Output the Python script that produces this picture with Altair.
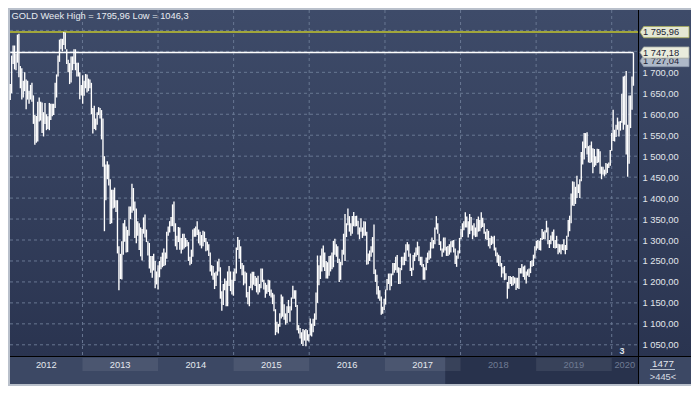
import altair as alt
import pandas as pd

# ---------------- weekly (low, high) of GOLD ----------------
y2012 = [(1634,1672),(1650,1740),(1720,1764),(1707,1764),(1705,1745),(1723,1790),(1688,1792),(1662,1715),(1635,1710),(1640,1680),(1655,1700),(1612,1683),(1635,1680),(1625,1656),(1635,1670),(1630,1675),(1577,1645),(1527,1598),(1532,1596),(1535,1630),(1583,1640),(1585,1630),(1555,1628),(1547,1605),(1577,1627),(1562,1600),(1565,1595),(1562,1627),(1586,1625),(1595,1625),(1598,1625),(1615,1675),(1640,1695),(1690,1740),(1725,1778),(1755,1780),(1750,1780),(1765,1796),(1755,1795),(1720,1755),(1700,1730),(1672,1722),(1676,1738),(1705,1738),(1720,1755),(1705,1755),(1690,1723),(1690,1723),(1636,1700),(1645,1670)]
y2013 = [(1625,1693),(1644,1680),(1662,1696),(1652,1695),(1655,1685),(1662,1683),(1600,1675),(1554,1615),(1565,1620),(1562,1590),(1575,1605),(1598,1617),(1590,1615),(1540,1610),(1475,1590),(1321,1500),(1395,1480),(1445,1488),(1430,1480),(1338,1445),(1340,1420),(1375,1420),(1377,1425),(1367,1395),(1268,1395),(1180,1285),(1207,1267),(1206,1297),(1265,1340),(1296,1348),(1270,1332),(1271,1324),(1310,1380),(1350,1380),(1365,1434),(1370,1424),(1305,1392),(1292,1375),(1310,1345),(1276,1340),(1261,1330),(1251,1326),(1315,1354),(1306,1361),(1295,1325),(1263,1297),(1232,1293),(1222,1262),(1210,1262),(1227,1267),(1185,1250),(1194,1225)]
y2014 = [(1182,1240),(1211,1250),(1230,1260),(1235,1270),(1238,1280),(1240,1270),(1255,1320),(1310,1332),(1318,1345),(1333,1355),(1333,1385),(1320,1392),(1285,1340),(1277,1310),(1295,1331),(1277,1330),(1268,1305),(1277,1315),(1280,1315),(1283,1305),(1285,1300),(1250,1295),(1240,1260),(1243,1277),(1260,1325),(1308,1328),(1308,1332),(1312,1345),(1292,1325),(1287,1320),(1280,1312),(1285,1322),(1295,1320),(1273,1305),(1275,1296),(1262,1290),(1225,1270),(1215,1240),(1205,1238),(1183,1222),(1190,1225),(1215,1249),(1225,1255),(1160,1235),(1131,1178),(1145,1195),(1180,1208),(1142,1203),(1142,1225),(1190,1238),(1178,1225),(1170,1205)]
y2015 = [(1167,1225),(1202,1232),(1220,1282),(1276,1307),(1255,1300),(1231,1285),(1216,1245),(1192,1240),(1196,1225),(1163,1222),(1147,1176),(1142,1190),(1185,1220),(1180,1224),(1193,1224),(1190,1214),(1175,1210),(1170,1215),(1175,1195),(1185,1232),(1200,1232),(1182,1205),(1162,1198),(1172,1193),(1176,1205),(1167,1204),(1163,1182),(1147,1174),(1130,1170),(1073,1135),(1080,1105),(1077,1100),(1093,1125),(1113,1170),(1117,1165),(1110,1147),(1098,1125),(1102,1142),(1126,1157),(1105,1142),(1132,1163),(1160,1191),(1160,1180),(1140,1180),(1085,1145),(1077,1097),(1065,1090),(1052,1080),(1047,1088),(1060,1085),(1046.3,1088),(1060,1085),(1058,1075)]
y2016 = [(1072,1113),(1070,1100),(1080,1112),(1095,1125),(1110,1175),(1150,1263),(1192,1240),(1207,1263),(1225,1280),(1235,1287),(1226,1270),(1208,1250),(1208,1247),(1215,1262),(1225,1263),(1230,1270),(1235,1298),(1265,1303),(1260,1290),(1245,1285),(1200,1255),(1205,1248),(1240,1277),(1265,1315),(1250,1362),(1307,1340),(1335,1375),(1320,1357),(1310,1340),(1315,1357),(1333,1367),(1332,1357),(1333,1358),(1313,1346),(1302,1330),(1320,1352),(1305,1330),(1310,1345),(1310,1344),(1241,1320),(1242,1268),(1250,1275),(1260,1285),(1270,1307),(1219,1337),(1200,1230),(1170,1217),(1160,1190),(1155,1180),(1122,1165),(1124,1141),(1133,1160)]
y2017 = [(1146,1182),(1180,1207),(1195,1220),(1180,1220),(1190,1220),(1216,1245),(1222,1245),(1228,1260),(1222,1264),(1195,1235),(1195,1233),(1228,1260),(1240,1260),(1240,1270),(1250,1290),(1275,1295),(1260,1290),(1226,1268),(1214,1234),(1228,1264),(1250,1270),(1260,1282),(1264,1296),(1250,1285),(1240,1260),(1236,1260),(1205,1243),(1205,1235),(1228,1258),(1245,1270),(1253,1275),(1256,1295),(1280,1306),(1280,1300),(1290,1330),(1325,1357),(1315,1340),(1288,1315),(1275,1297),(1260,1280),(1270,1306),(1275,1306),(1262,1284),(1262,1286),(1265,1290),(1270,1297),(1283,1299),(1270,1300),(1243,1280),(1236,1263),(1255,1275),(1268,1305)]
y2018 = [(1302,1326),(1307,1340),(1323,1345),(1330,1366),(1330,1356),(1306,1345),(1314,1362),(1322,1355),(1302,1335),(1311,1340),(1307,1330),(1308,1350),(1320,1356),(1321,1348),(1328,1366),(1331,1353),(1315,1340),(1302,1320),(1300,1326),(1285,1322),(1280,1305),(1288,1310),(1291,1308),(1275,1310),(1261,1282),(1246,1270),(1238,1265),(1237,1262),(1211,1245),(1220,1235),(1204,1238),(1205,1221),(1160,1200),(1184,1214),(1195,1214),(1190,1212),(1192,1214),(1196,1211),(1181,1210),(1185,1210),(1183,1233),(1220,1233),(1220,1243),(1212,1237),(1205,1239),(1196,1225),(1215,1230),(1212,1232),(1221,1250),(1236,1252),(1238,1265),(1256,1285),(1275,1298)]
y2019 = [(1280,1300),(1276,1298),(1275,1305),(1300,1326),(1302,1320),(1302,1323),(1318,1346),(1290,1330),(1281,1300),(1290,1311),(1298,1320),(1281,1325),(1280,1300),(1281,1310),(1266,1291),(1270,1290),(1266,1289),(1276,1290),(1275,1302),(1266,1288),(1276,1310),(1308,1348),(1321,1358),(1340,1411),(1382,1440),(1381,1439),(1386,1427),(1400,1453),(1412,1433),(1400,1445),(1440,1510),(1480,1535),(1492,1555),(1519,1555),(1504,1557),(1485,1524),(1484,1526),(1485,1535),(1459,1519),(1474,1517),(1478,1500),(1484,1518),(1485,1517),(1458,1512),(1445,1475),(1456,1475),(1452,1468),(1456,1484),(1460,1482),(1472,1485),(1477,1515),(1513,1555)]
y2020 = [(1536,1611),(1535,1563),(1546,1575),(1563,1592),(1547,1583),(1561,1584),(1580,1649),(1563,1690),(1575,1692),(1504,1703),(1451,1575),(1482,1645),(1567,1645),(1611,1690),(1668,1747.18)]

# first mid-week date of each yearly block
block_starts = ["2012-01-18", "2013-01-02", "2014-01-01", "2014-12-31", "2016-01-06",
                "2017-01-04", "2018-01-03", "2019-01-09", "2020-01-08"]
blocks = [y2012, y2013, y2014, y2015, y2016, y2017, y2018, y2019, y2020]

title_text = "GOLD Week High = 1795,96 Low = 1046,3"
high_level = 1795.96
last_high = 1747.18
last_price = 1727.04
price_ticks = [1050, 1100, 1150, 1200, 1250, 1300, 1350, 1400, 1450, 1500, 1550, 1600, 1650, 1700]
grid_levels = price_ticks + [1750, 1800]
years = [2012, 2013, 2014, 2015, 2016, 2017, 2018, 2019, 2020]
shaded_years = [2013, 2015, 2017, 2019]
dim_from_year = 2018
dark_from = "2017-10-19"
counter_top = "1477"
counter_bottom = ">445<"
marker_text = "3"

# ---------------- layout ----------------
W, H = 628, 346
PL, PT, PR, PB = 2, 2, 53, 30
BAND = 28
FONT = "Liberation Sans"
FS = 9.3

D0 = pd.Timestamp("2012-01-17")
D1 = pd.Timestamp("2020-05-07")

def iso(ts):
    return pd.Timestamp(ts).strftime("%Y-%m-%dT00:00:00")

rows = []
for start, wk in zip(block_starts, blocks):
    for d, (lo, hi) in zip(pd.date_range(start, periods=len(wk), freq="7D"), wk):
        rows.append({"date": iso(d), "lo": lo, "hi": hi})
bars = pd.DataFrame(rows)

xs = alt.Scale(domain=[alt.DateTime(year=2012, month=1, date=17),
                       alt.DateTime(year=2020, month=5, date=7)])
ys = alt.Scale(domain=[1023.3, 1848.7], nice=False, zero=False)
yaxis = alt.Axis(orient="right", values=price_ticks, ticks=False, domain=False, grid=False,
                 labelPadding=4, labelColor="#e2e6ec", labelFont=FONT, labelFontSize=FS,
                 labelExpr="replace(replace(format(datum.value, ',.2f'), ',', ' '), '.', ',')",
                 title="", zindex=1)

def X(field):
    return alt.X(field, scale=xs, axis=None)

def Y(field):
    return alt.Y(field, scale=ys, axis=yaxis)

one = pd.DataFrame({"a": [0]})

grad = alt.LinearGradient(gradient="linear", x1=0, x2=0, y1=0, y2=1,
                          stops=[alt.GradientStop(color="#3e4b69", offset=0),
                                 alt.GradientStop(color="#2a3450", offset=1)])

bg = alt.Chart(one).mark_rect(color=grad).encode(
    x=alt.value(0), x2=alt.value(W + PR), y=alt.value(0), y2=alt.value(H))
band = alt.Chart(one).mark_rect(color="#3c4864").encode(
    x=alt.value(0), x2=alt.value(W + PR), y=alt.value(H), y2=alt.value(H + BAND))
dark = alt.Chart(pd.DataFrame({"d": [iso(dark_from)]})).mark_rect(color="#28324c").encode(
    x=X("d:T"), x2=alt.value(W), y=alt.value(H), y2=alt.value(H + BAND))
shade_df = pd.DataFrame({"s": [iso(f"{y}-01-01") for y in shaded_years],
                         "e": [iso(f"{y+1}-01-01") for y in shaded_years]})
shade = alt.Chart(shade_df).mark_rect(color="white", opacity=0.08).encode(
    x=X("s:T"), x2="e:T", y=alt.value(H + 2), y2=alt.value(H + 15))

hgrid = alt.Chart(pd.DataFrame({"v": grid_levels})).mark_rule(
    color="#687792", strokeDash=[3, 3], strokeWidth=1).encode(
    y=Y("v:Q"), x=alt.value(0), x2=alt.value(W))
vgrid = alt.Chart(pd.DataFrame({"d": [iso(f"{y}-01-01") for y in years[1:]]})).mark_rule(
    color="#687792", strokeDash=[3, 3], strokeWidth=1).encode(
    x=X("d:T"), y=alt.value(0), y2=alt.value(H))

vline = alt.Chart(one).mark_rule(color="#000000", strokeWidth=1).encode(
    x=alt.value(W + 0.5), y=alt.value(0), y2=alt.value(H + BAND))
hline = alt.Chart(one).mark_rule(color="#000000", strokeWidth=1).encode(
    y=alt.value(H + 0.5), x=alt.value(0), x2=alt.value(W + PR))

yellow = alt.Chart(pd.DataFrame({"v": [high_level]})).mark_rule(
    color="#c3c62c", strokeWidth=1.5).encode(y=Y("v:Q"), x=alt.value(0), x2=alt.value(W))
white = alt.Chart(pd.DataFrame({"x0": [bars["date"].iloc[0]], "x1": [bars["date"].iloc[-1]],
                                "v": [last_high]})).mark_rule(
    color="#ffffff", strokeWidth=1.5).encode(x=X("x0:T"), x2="x1:T", y=Y("v:Q"))

ohlc = alt.Chart(bars).mark_rule(color="#ffffff", strokeWidth=1.35).encode(
    x=X("date:T"), y=Y("lo:Q"), y2="hi:Q")

title = alt.Chart(one).mark_text(align="left", baseline="middle", font=FONT, fontSize=FS,
                                 color="#e8ecf1").encode(
    x=alt.value(1.5), y=alt.value(6), text=alt.value(title_text))

TAG = "M-1,0L-0.85,-0.23L1,-0.23L1,0.23L-0.85,0.23Z"
tags = []
for v, fill, edge in [(last_price, "#aeb8c8", "#8a96aa"),
                      (last_high, "#eaecdc", "#9ea4a0"),
                      (high_level, "#e4e7d3", "#a7ac55")]:
    lab = f"{v:,.2f}".replace(",", " ").replace(".", ",")
    d = pd.DataFrame({"v": [v], "t": [lab]})
    tags.append(alt.Chart(d).mark_point(shape=TAG, filled=True, size=2401, opacity=1,
                                        fill=fill, stroke=edge, strokeWidth=0.8).encode(
        x=alt.value(W + 26.5), y=Y("v:Q")))
    tags.append(alt.Chart(d).mark_text(align="left", baseline="middle", font=FONT, fontSize=FS,
                                       color="#1b2335").encode(
        x=alt.value(W + 5), y=Y("v:Q"), text="t:N"))

lab_rows = []
for y in years:
    s = max(pd.Timestamp(f"{y}-01-01"), D0)
    e = min(pd.Timestamp(f"{y+1}-01-01"), D1)
    lab_rows.append({"m": iso(s + (e - s) / 2), "t": str(y),
                     "c": "#6f7b93" if y >= dim_from_year else "#e4e8ee"})
year_labels = alt.Chart(pd.DataFrame(lab_rows)).mark_text(
    baseline="middle", font=FONT, fontSize=FS).encode(
    x=X("m:T"), y=alt.value(H + 8.5), text="t:N", color=alt.Color("c:N", scale=None))

cnt1 = alt.Chart(one).mark_text(baseline="middle", font=FONT, fontSize=9.8, color="#e2e6ec").encode(
    x=alt.value(W + 25), y=alt.value(H + 7.5), text=alt.value(counter_top))
cnt2 = alt.Chart(one).mark_text(baseline="middle", font=FONT, fontSize=9.3, color="#d6dbe3").encode(
    x=alt.value(W + 25), y=alt.value(H + 20.5), text=alt.value(counter_bottom))
cntline = alt.Chart(one).mark_rule(color="#b9c1cf", strokeWidth=1).encode(
    x=alt.value(W + 12), x2=alt.value(W + 37), y=alt.value(H + 13.5))
marker = alt.Chart(one).mark_text(baseline="middle", font=FONT, fontSize=9, fontWeight="bold",
                                  color="#dfe3ea").encode(
    x=alt.value(W - 16), y=alt.value(H - 5), text=alt.value(marker_text))

chart = alt.layer(
    bg, band, dark, shade, hgrid, vgrid, vline, hline, yellow, white, ohlc, title,
    *tags, year_labels, cnt1, cnt2, cntline, marker
).properties(
    width=W, height=H,
    padding={"left": PL, "top": PT, "right": PR, "bottom": PB},
    autosize=alt.AutoSizeParams(type="none"),
    background="#b9c0cb",
).configure_view(strokeWidth=0)

chart.save("out.html", embed_options={"renderer": "svg", "actions": False})
